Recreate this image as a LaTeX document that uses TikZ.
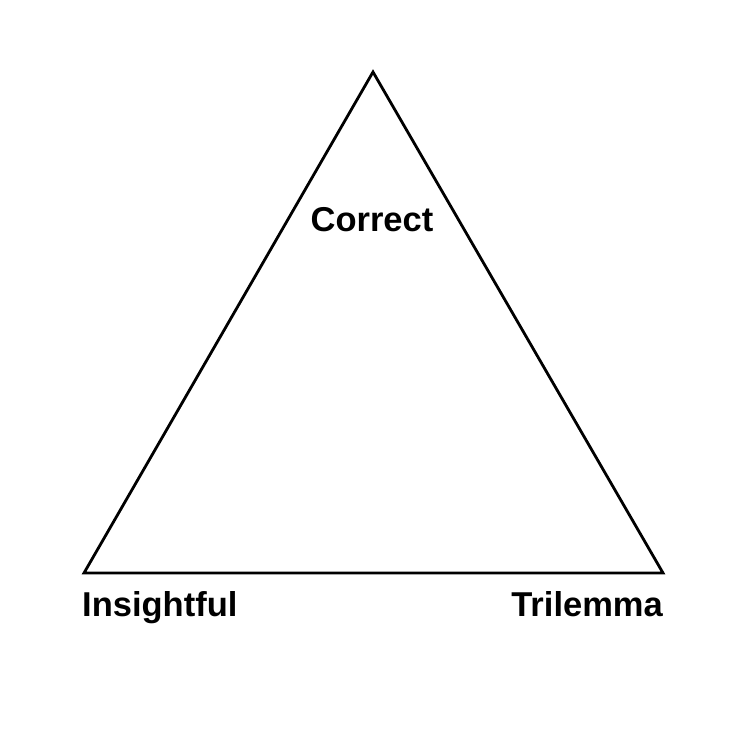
\documentclass[tikz,border=0pt]{standalone}
\usepackage{fontspec}
\setmainfont{Liberation Sans}
\usepackage{tikz}
\usetikzlibrary{positioning}

\tikzset{
    side/.style={draw=black, line width=2.8pt, line join=miter},
    cornerlabel/.style={inner sep=0pt, font=\bfseries\fontsize{34.5}{40}\selectfont}
}

\begin{document}
\begin{tikzpicture}[x=1pt, y=-1pt]
    \useasboundingbox (0,0) rectangle (750,744);

    \coordinate (top) at (373,72);
    \coordinate (left) at (84,573);
    \coordinate (right) at (663,573);

    \draw[side] (top) -- (left) -- (right) -- cycle;

    \node[cornerlabel, anchor=base] (correct) at (372,231) {Correct};
    \node[cornerlabel, anchor=base west] (insightful) at (82,616) {Insightful};
    \node[cornerlabel, anchor=base east] (trilemma) at (663,616) {Trilemma};
\end{tikzpicture}
\end{document}
